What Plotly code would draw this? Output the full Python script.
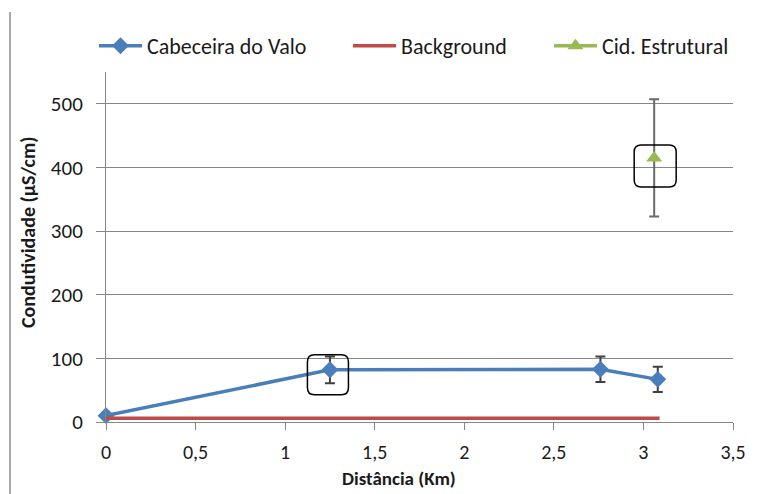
import plotly.graph_objects as go

# ---- data ----
dist_cab = [0, 1.25, 2.76, 3.08]
cond_cab = [10, 82, 83, 67]
err_cab = [0, 21, 20, 20]

dist_bg = [0, 1.25, 2.76, 3.09]
cond_bg = [6, 6, 6, 6]

dist_cid = [3.06]
cond_cid = [415]
err_cid = [92]

x_ticks = [0, 0.5, 1, 1.5, 2, 2.5, 3, 3.5]
x_ticklabels = ["0", "0,5", "1", "1,5", "2", "2,5", "3", "3,5"]
y_ticks = [0, 100, 200, 300, 400, 500]

FONT = "Calibri, Carlito, Lato, sans-serif"
TXT = "#1a1a1a"

# page body has an 8px margin: figure is drawn 8px right/down
L, T, R, B = 98, 64, 49, 72
W, H = 774, 486
PW, PH = W - L - R, H - T - B

fig = go.Figure()
fig.add_trace(go.Scatter(
    x=dist_cab, y=cond_cab, name="Cabeceira do Valo", mode="lines+markers",
    line=dict(color="#4a7ebb", width=3.5),
    marker=dict(symbol="diamond", size=13, color="#4a7ebb"),
    error_y=dict(type="data", array=err_cab, visible=True, color="#404040", thickness=2, width=5),
    cliponaxis=False, legend="legend",
))
fig.add_trace(go.Scatter(
    x=dist_bg, y=cond_bg, name="Background", mode="lines",
    line=dict(color="#be4b48", width=3.5), cliponaxis=False, legend="legend2",
))
fig.add_trace(go.Scatter(
    x=dist_cid, y=cond_cid, name="Cid. Estrutural", mode="lines+markers",
    line=dict(color="#98b954", width=3.5),
    marker=dict(symbol="triangle-up", size=14, color="#98b954"),
    error_y=dict(type="data", array=err_cid, visible=True, color="#6a6a6a", thickness=2, width=5),
    cliponaxis=False, legend="legend3",
))

def rounded_box(w, h, r, dx, dy):
    x0, x1 = dx - w / 2, dx + w / 2
    y0, y1 = dy - h / 2, dy + h / 2
    return (f"M {x0+r},{y0} L {x1-r},{y0} Q {x1},{y0} {x1},{y0+r} "
            f"L {x1},{y1-r} Q {x1},{y1} {x1-r},{y1} L {x0+r},{y1} "
            f"Q {x0},{y1} {x0},{y1-r} L {x0},{y0+r} Q {x0},{y0} {x0+r},{y0} Z")

def px_x(sx):  # screen x -> paper x
    return (sx - 8 - L) / PW

def px_y(sy):  # screen y -> paper y
    return (H - B - (sy - 8)) / PH

shapes = [
    dict(type="path", xref="x", yref="y", xsizemode="pixel", ysizemode="pixel",
         xanchor=dist_cab[1], yanchor=cond_cab[1],
         path=rounded_box(41, 40, 7, -2, -5), line=dict(color="black", width=1.5)),
    dict(type="path", xref="x", yref="y", xsizemode="pixel", ysizemode="pixel",
         xanchor=dist_cid[0], yanchor=cond_cid[0],
         path=rounded_box(42, 42, 7, 1, -8), line=dict(color="black", width=1.5)),
    dict(type="line", xref="paper", yref="paper", x0=px_x(10), x1=px_x(10),
         y0=px_y(500), y1=px_y(12), line=dict(color="#8c8c8c", width=1.5)),
]

def leg(sample_x):
    return dict(orientation="h", x=px_x(sample_x - 6), xanchor="left",
                y=px_y(46), yanchor="middle", itemwidth=43,
                font=dict(family=FONT, size=22, color=TXT),
                bgcolor="rgba(0,0,0,0)", itemclick=False, tracegroupgap=0)

annotations = [
    dict(text="<b>Distância (Km)</b>", xref="paper", yref="paper",
         x=px_x(399), y=px_y(478), xanchor="center", yanchor="middle", showarrow=False,
         font=dict(family=FONT, size=19, color=TXT)),
    dict(text="<b>Condutividade (µS/cm)</b>", xref="paper", yref="paper",
         x=px_x(28), y=px_y(233), xanchor="center", yanchor="middle", showarrow=False,
         textangle=-90, font=dict(family=FONT, size=20, color=TXT)),
]

fig.update_layout(
    width=W, height=H,
    margin=dict(l=L, r=R, t=T, b=B, autoexpand=False),
    paper_bgcolor="white", plot_bgcolor="white",
    font=dict(family=FONT, size=22, color=TXT),
    shapes=shapes, annotations=annotations,
    showlegend=True,
    legend=leg(100), legend2=leg(354), legend3=leg(555),
    xaxis=dict(range=[0, 3.5], tickvals=x_ticks, ticktext=x_ticklabels,
               showgrid=False, zeroline=False, showline=True, linecolor="#868686", linewidth=1,
               ticks="outside", ticklen=7, tickcolor="#868686", ticklabelstandoff=5,
               tickfont=dict(family=FONT, size=20, color=TXT)),
    yaxis=dict(range=[0, 550], tickvals=y_ticks,
               showgrid=True, gridcolor="#868686", gridwidth=1, zeroline=False,
               showline=True, linecolor="#868686", linewidth=1,
               ticks="outside", ticklen=9, tickcolor="#868686", ticklabelstandoff=9,
               tickfont=dict(family=FONT, size=21, color=TXT)),
)

fig.write_html("out.html")
